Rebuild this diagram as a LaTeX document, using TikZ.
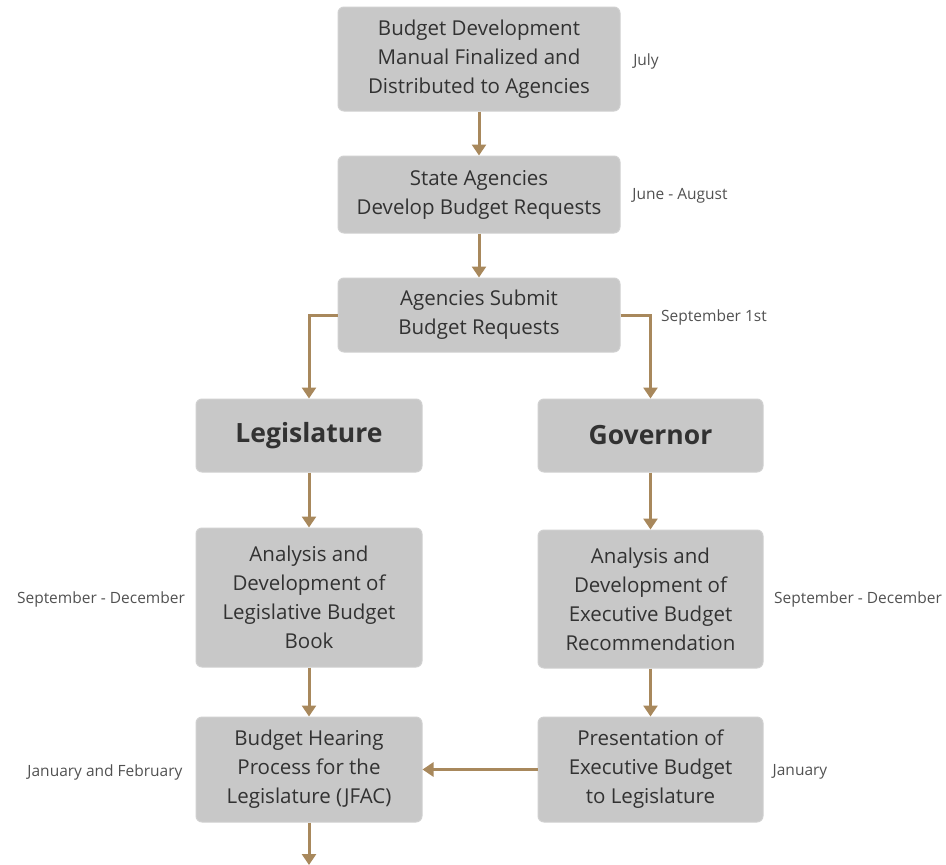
\documentclass[tikz,border=0pt]{standalone}
\usepackage{fontspec}
\setmainfont{Open Sans}
\usetikzlibrary{arrows.meta}
\definecolor{boxgray}{RGB}{200,200,200}
\definecolor{arrowtan}{RGB}{168,136,92}
\definecolor{textgray}{RGB}{50,50,50}
\begin{document}
\begin{tikzpicture}[x=1pt, y=-1pt,
  stepbox/.style={draw=boxgray!85!white, fill=boxgray, rounded corners=6pt, line width=1pt,
    align=center, text=textgray, inner sep=0pt, font=\fontsize{20.5}{29}\selectfont},
  bigbox/.style={stepbox, font=\fontsize{26.5}{30}\selectfont\bfseries},
  when/.style={text=textgray!85!white, font=\fontsize{15.5}{17}\selectfont},
  flow/.style={draw=arrowtan, line width=3pt, -{Triangle[length=11pt,width=14pt]}}]

\useasboundingbox (0,0) rectangle (946,865);

\node[stepbox, minimum width=282, minimum height=104] (manual) at (479,59) {Budget Development\\Manual Finalized and\\Distributed to Agencies};
\node[stepbox, minimum width=282, minimum height=77] (develop) at (479,194.5) {State Agencies\\Develop Budget Requests};
\node[stepbox, minimum width=282, minimum height=74] (submit) at (479,315) {Agencies Submit\\Budget Requests};

\node[bigbox, minimum width=226, minimum height=73] (leg) at (309,435.5) {Legislature};
\node[bigbox, minimum width=225, minimum height=73] (gov) at (650.5,435.5) {Governor};

\node[stepbox, minimum width=226, minimum height=139] (legbook) at (309,597.5) {Analysis and\\Development of\\Legislative Budget\\Book};
\node[stepbox, minimum width=225, minimum height=138] (govrec) at (650.5,599) {Analysis and\\Development of\\Executive Budget\\Recommendation};

\node[stepbox, minimum width=226, minimum height=105] (hearing) at (309,769.5) {Budget Hearing\\Process for the\\Legislature (JFAC)};
\node[stepbox, minimum width=225, minimum height=105] (present) at (650.5,769.5) {Presentation of\\Executive Budget\\to Legislature};

% time labels
\node[when] (t1) at (646,61) {July};
\node[when] (t2) at (680,196) {June - August};
\node[when] (t3) at (714,317) {September 1st};
\node[when] (t4) at (101,599) {September - December};
\node[when] (t5) at (858,599) {September - December};
\node[when] (t6) at (105,772) {January and February};
\node[when] (t7) at (800,772) {January};

\coordinate (out) at (309,865);

\draw[flow] (manual) -- (develop);
\draw[flow] (develop) -- (submit);
\draw[flow] (submit.west) -| (leg.north);
\draw[flow] (submit.east) -| (gov.north);
\draw[flow] (leg) -- (legbook);
\draw[flow] (gov) -- (govrec);
\draw[flow] (legbook) -- (hearing);
\draw[flow] (govrec) -- (present);
\draw[flow] (present) -- (hearing);
\draw[flow] (hearing) -- (out);

\end{tikzpicture}
\end{document}
